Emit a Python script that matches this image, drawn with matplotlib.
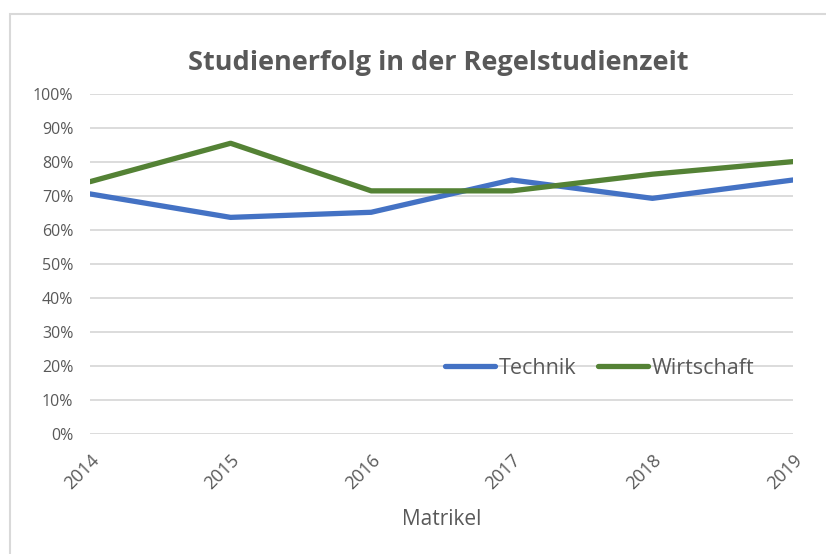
import matplotlib.pyplot as plt
from matplotlib.patches import Rectangle
from matplotlib.ticker import PercentFormatter

plt.rcParams['font.family'] = ['Open Sans', 'DejaVu Sans']

years = ['2014', '2015', '2016', '2017', '2018', '2019']
technik = [0.707, 0.638, 0.653, 0.748, 0.694, 0.748]
wirtschaft = [0.743, 0.856, 0.716, 0.716, 0.765, 0.802]

grey = '#595959'

fig = plt.figure(figsize=(8.26, 5.54), dpi=100)
# chart border (Excel style)
fig.patches.append(Rectangle((10 / 826, -0.01), 1.0, 1 - 14 / 554 + 0.01,
                             transform=fig.transFigure, fill=False,
                             edgecolor='#d9d9d9', linewidth=1.5))

ax = fig.add_axes([90 / 826, 1 - 434.3 / 554, (793 - 90) / 826, (434.3 - 94.3) / 554])
x = range(len(years))
ax.plot(x, technik, color='#4472C4', linewidth=3.8, label='Technik', solid_capstyle='round')
ax.plot(x, wirtschaft, color='#548235', linewidth=3.8, label='Wirtschaft', solid_capstyle='round')

ax.set_xlim(0, len(years) - 1)
ax.set_ylim(0, 1)
ax.set_yticks([i / 10 for i in range(11)])
ax.yaxis.set_major_formatter(PercentFormatter(1.0, decimals=0))
ax.set_xticks(list(x))
ax.set_xticklabels(years, rotation=45, ha='right', va='top', rotation_mode='anchor')
ax.grid(axis='y', color='#d9d9d9', linewidth=1.3)
ax.set_axisbelow(True)
for s in ax.spines.values():
    s.set_visible(False)
ax.tick_params(length=0, colors=grey)
ax.tick_params(axis='y', pad=12, labelsize=11.5)
ax.tick_params(axis='x', pad=12, labelsize=13)

ax.set_xlabel('Matrikel', color=grey, fontsize=15, labelpad=12)
fig.suptitle('Studienerfolg in der Regelstudienzeit', x=0.531, y=1 - 63 / 554,
             va='center', fontsize=19.5, fontweight='bold', color=grey)

leg = ax.legend(loc='center', bbox_to_anchor=((600 - 90) / 703, (434.3 - 368) / 340),
                ncol=2, frameon=False, fontsize=15.5, handlelength=2.3,
                handletextpad=0.2, columnspacing=1.0)
for t in leg.get_texts():
    t.set_color(grey)

fig.savefig('out.png', dpi=100)
